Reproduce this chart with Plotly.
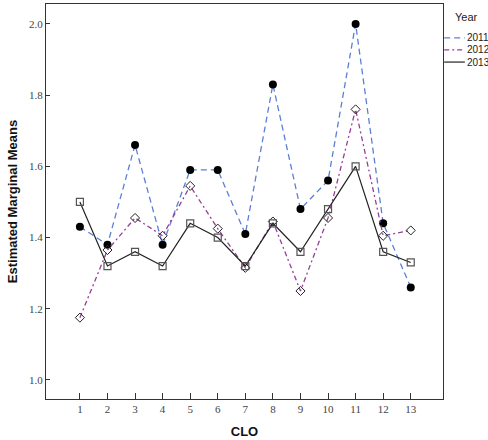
import plotly.graph_objects as go

clo = list(range(1, 14))
years = ["2011", "2012", "2013"]
means_2011 = [1.43, 1.38, 1.66, 1.38, 1.59, 1.59, 1.41, 1.83, 1.48, 1.56, 2.00, 1.44, 1.26]
means_2012 = [1.175, 1.365, 1.455, 1.405, 1.545, 1.425, 1.315, 1.445, 1.25, 1.455, 1.76, 1.405, 1.42]
means_2013 = [1.50, 1.32, 1.36, 1.32, 1.44, 1.40, 1.32, 1.44, 1.36, 1.48, 1.60, 1.36, 1.33]

styles = {
    "2011": dict(line=dict(color="#5b7fd6", dash="6px,4px", width=1.3),
                 marker=dict(symbol="circle", size=8, color="black")),
    "2012": dict(line=dict(color="#963f99", dash="5px,3px,2px,3px", width=1.3),
                 marker=dict(symbol="diamond-open", size=7, color="#222", line=dict(width=1))),
    "2013": dict(line=dict(color="#222222", width=1.2),
                 marker=dict(symbol="square-open", size=7, color="#555", line=dict(width=1.2))),
}

fig = go.Figure()
for yr, vals in zip(years, [means_2011, means_2012, means_2013]):
    fig.add_trace(go.Scatter(x=clo, y=vals, mode="lines+markers", name=yr,
                             showlegend=False, **styles[yr]))

# hand made legend (lines only, like the original)
fig.add_annotation(x=1.026, y=0.967, xref="paper", yref="paper", text="Year",
                   showarrow=False, xanchor="left", yanchor="middle",
                   font=dict(size=11, color="#222"))
leg_y = [0.914, 0.884, 0.853]
for yr, ly in zip(years, leg_y):
    ln = styles[yr]["line"]
    fig.add_shape(type="line", xref="paper", yref="paper", x0=1.003, x1=1.055, y0=ly, y1=ly,
                  line=dict(color=ln["color"], width=ln["width"], dash=ln.get("dash", "solid")))
    fig.add_annotation(x=1.056, y=ly, xref="paper", yref="paper", text=yr, showarrow=False,
                       xanchor="left", yanchor="middle", font=dict(size=10, color="#222"))

fig.update_layout(
    width=488, height=440,
    margin=dict(l=46, r=45, t=4, b=41),
    plot_bgcolor="white", paper_bgcolor="white",
    font=dict(family="Liberation Sans, Arial, sans-serif"),
)
fig.update_xaxes(
    range=[-0.23, 14.17], tickvals=clo, ticks="inside", ticklen=6, tickcolor="#333",
    showgrid=False, zeroline=False, showline=True, linecolor="#333", mirror=True,
    tickfont=dict(family="Liberation Serif, Times New Roman, serif", size=11, color="#444"),
    title=dict(text="<b>CLO</b>", font=dict(size=13, color="#111"), standoff=12),
)
fig.update_yaxes(
    range=[0.9465, 2.056], tickvals=[1.0, 1.2, 1.4, 1.6, 1.8, 2.0], tickformat=".1f",
    ticks="inside", ticklen=4, tickcolor="#333",
    showgrid=False, zeroline=False, showline=True, linecolor="#333", mirror=True,
    tickfont=dict(family="Liberation Serif, Times New Roman, serif", size=11, color="#444"),
    title=dict(text="<b>Estimated Marginal Means</b>", font=dict(size=13, color="#111"), standoff=8),
)

fig.write_html("out.html", config={"displayModeBar": False},
               post_script="document.body.style.margin='0';document.body.style.overflow='hidden';")
